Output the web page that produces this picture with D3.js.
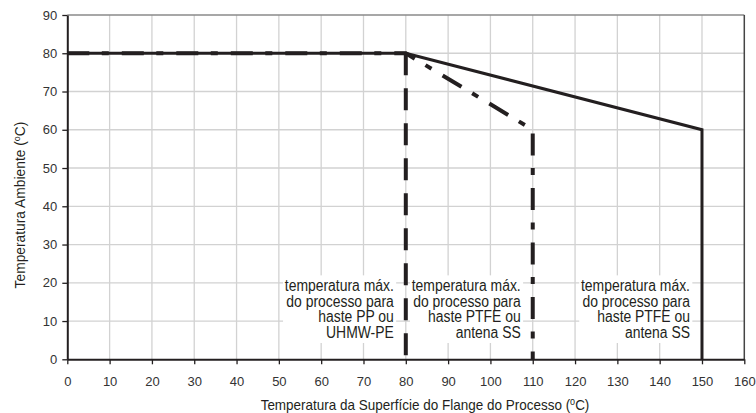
<!DOCTYPE html>
<html><head><meta charset="utf-8">
<script src="https://cdn.jsdelivr.net/npm/d3@7"></script>
<style>
html,body{margin:0;padding:0;background:#fff;}
svg{display:block;}
</style></head>
<body>
<svg id="chart" width="756" height="413"></svg>
<script>
// ---- data ----
const xTicks = [0,10,20,30,40,50,60,70,80,90,100,110,120,130,140,150,160];
const yTicks = [0,10,20,30,40,50,60,70,80,90];
const solidX = [0, 80, 150, 150];
const solidY = [80, 80, 60, 0];
const dashDotX = [0, 80, 110, 110];
const dashDotY = [80, 80, 60, 0];
const dashedX = [80, 80];
const dashedY = [80, 0];
const noteLimits = [80, 110, 150];
const noteLines = [
  ["temperatura máx.", "do processo para", "haste PP ou", "UHMW-PE"],
  ["temperatura máx.", "do processo para", "haste PTFE ou", "antena SS"],
  ["temperatura máx.", "do processo para", "haste PTFE ou", "antena SS"]
];
const xTitle = "Temperatura da Superfície do Flange do Processo (";
const yTitle = "Temperatura Ambiente (";

// ---- layout ----
const svg = d3.select("#chart");
const L = 67.3, R = 744.3, T = 15, B = 359.3;
const x = d3.scaleLinear().domain([0,160]).range([L,R]);
const y = d3.scaleLinear().domain([0,90]).range([B,T]);
const ink = "#231f20";
const sans = "'Liberation Sans',Arial,Helvetica,sans-serif";

// grid
const g = svg.append("g");
g.selectAll("line.vx").data(xTicks.filter(d=>d>0 && d<160)).join("line")
  .attr("x1",d=>x(d)).attr("x2",d=>x(d)).attr("y1",T).attr("y2",B)
  .attr("stroke","#d2d2d2").attr("stroke-width",1.3);
g.selectAll("line.hy").data(yTicks.filter(d=>d>0 && d<90)).join("line")
  .attr("x1",L).attr("x2",R).attr("y1",d=>y(d)).attr("y2",d=>y(d))
  .attr("stroke","#d2d2d2").attr("stroke-width",1.3);

// border top/right
svg.append("line").attr("x1",L).attr("x2",R).attr("y1",T).attr("y2",T)
  .attr("stroke","#8a8a8a").attr("stroke-width",1.5);
svg.append("line").attr("x1",R).attr("x2",R).attr("y1",T).attr("y2",B)
  .attr("stroke","#444").attr("stroke-width",1.5);

// notes (condensed look via horizontal scaling)
const notes = svg.append("g");
noteLimits.forEach((lim,i)=>{
  const ng = notes.append("g")
    .attr("transform",`translate(${x(lim)-12},${B-68}) scale(0.87,1)`);
  const rect = ng.append("rect").attr("fill","#fff");
  const t = ng.append("text")
    .attr("font-family",sans).attr("font-size",16).attr("fill",ink)
    .attr("text-anchor","end");
  noteLines[i].forEach((ln,k)=>{
    t.append("tspan").attr("x",0).attr("y",k*15.5).text(ln);
  });
  const bb = t.node().getBBox();
  rect.attr("x",bb.x-2).attr("y",bb.y-1).attr("width",bb.width+4).attr("height",bb.height+3);
});

// lines
const line = d3.line().x(d=>x(d[0])).y(d=>y(d[1]));
svg.append("path").datum(solidX.map((v,i)=>[v,solidY[i]]))
  .attr("d",line).attr("fill","none").attr("stroke",ink).attr("stroke-width",3)
  .attr("stroke-linejoin","miter");
svg.append("path").datum(dashedX.map((v,i)=>[v,dashedY[i]]))
  .attr("d",line).attr("fill","none").attr("stroke",ink).attr("stroke-width",4)
  .attr("stroke-dasharray","22 13");
svg.append("path").datum(dashDotX.map((v,i)=>[v,dashDotY[i]]))
  .attr("d",line).attr("fill","none").attr("stroke",ink).attr("stroke-width",4)
  .attr("stroke-dasharray","22 12.5 7 13").attr("stroke-linejoin","miter");

// axes
const ax = svg.append("g").attr("transform",`translate(0,${B})`)
  .call(d3.axisBottom(x).tickValues(xTicks).tickSize(5).tickPadding(12).tickSizeOuter(0));
const ay = svg.append("g").attr("transform",`translate(${L},0)`)
  .call(d3.axisLeft(y).tickValues(yTicks).tickSize(5).tickPadding(5).tickSizeOuter(0));
[ax,ay].forEach(a=>{
  a.selectAll("text").attr("font-family",sans).attr("font-size",13).attr("fill","#333");
  a.selectAll(".tick line").attr("stroke",ink).attr("stroke-width",1.3);
  a.select(".domain").attr("stroke",ink).attr("stroke-width",2);
});

// titles
const xg = svg.append("g").attr("transform","translate(425,410) scale(0.9,1)");
const xt = xg.append("text").attr("x",0).attr("y",0)
  .attr("text-anchor","middle").attr("font-family",sans).attr("font-size",15).attr("fill",ink);
xt.append("tspan").text(xTitle);
xt.append("tspan").attr("font-size",10).attr("dy",-5).text("o");
xt.append("tspan").attr("dy",5).text("C)");

const yt = svg.append("text").attr("transform","translate(25,205) rotate(-90)")
  .attr("text-anchor","middle").attr("font-family",sans).attr("font-size",13.8).attr("fill",ink);
yt.append("tspan").text(yTitle);
yt.append("tspan").attr("font-size",9).attr("dy",-5).text("o");
yt.append("tspan").attr("dy",5).text("C)");
</script>
</body></html>
